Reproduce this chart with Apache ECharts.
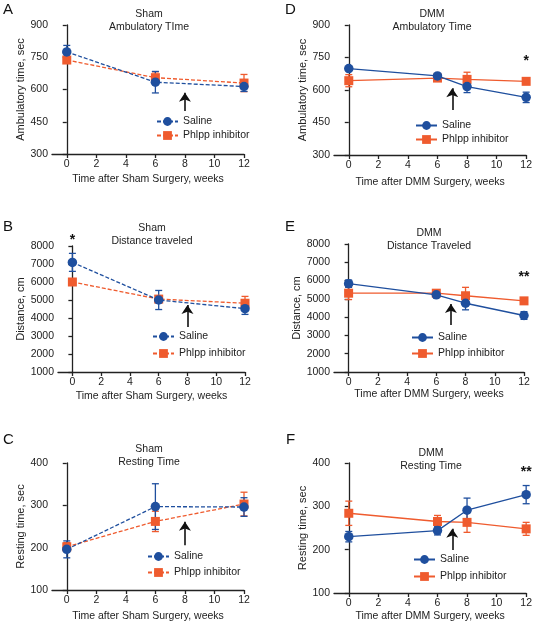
<!DOCTYPE html>
<html><head><meta charset="utf-8">
<script src="https://cdn.jsdelivr.net/npm/echarts@6/dist/echarts.min.js"></script>
<style>html,body{margin:0;padding:0;background:#fff;}
.c{position:absolute;left:0;top:0;width:535px;height:626px;}</style>
</head><body>
<div id="pA" class="c"></div><div id="pB" class="c"></div><div id="pC" class="c"></div>
<div id="pD" class="c"></div><div id="pE" class="c"></div><div id="pF" class="c"></div>
<script>
// ---- data ----
const xSham = [0, 6, 12];
const xDMM = [0, 6, 8, 12];
const xTicks = [0, 2, 4, 6, 8, 10, 12];
const ambTicks = [300, 450, 600, 750, 900];
const distTicks = [1000, 2000, 3000, 4000, 5000, 6000, 7000, 8000];
const restTicks = [100, 200, 300, 400];

const shamAmbSaline = [775, 634, 614];
const shamAmbSalineErr = [30, 50, 23];
const shamAmbPhlpp = [737, 655, 630];
const shamAmbPhlppErr = [12, 27, 40];

const shamDistSaline = [7090, 5000, 4520];
const shamDistSalineErr = [500, 530, 320];
const shamDistPhlpp = [6000, 5050, 4820];
const shamDistPhlppErr = [150, 120, 380];

const shamRestSaline = [196, 297, 296];
const shamRestSalineErr = [20, 54, 22];
const shamRestPhlpp = [202, 262, 303];
const shamRestPhlppErr = [10, 24, 28];

const dmmAmbSaline = [699, 665, 616, 566];
const dmmAmbSalineErr = [8, 8, 28, 24];
const dmmAmbPhlpp = [643, 655, 649, 640];
const dmmAmbPhlppErr = [28, 10, 33, 8];

const dmmDistSaline = [5830, 5220, 4760, 4090];
const dmmDistSalineErr = [200, 100, 360, 210];
const dmmDistPhlpp = [5310, 5310, 5170, 4890];
const dmmDistPhlppErr = [350, 100, 460, 100];

const dmmRestSaline = [230, 244, 291, 327];
const dmmRestSalineErr = [12, 10, 28, 21];
const dmmRestPhlpp = [284, 265, 263, 248];
const dmmRestPhlppErr = [28, 14, 23, 15];

// arrows: [x, tail, tip]
const arrowA = [8, 500, 585];
const arrowB = [8, 3500, 4720];
const arrowC = [8, 206, 261];
const arrowD = [7, 508, 608];
const arrowE = [7, 3570, 4720];
const arrowF = [7, 199, 248];

// significance marks: [x, y, text]
const starB = [0, 8330, '*'];
const starD = [12, 734, '*'];
const starE = [12, 6196, '**'];
const starF = [12, 379, '**'];

const BLUE = '#1F4F9E', ORANGE = '#EF5B2E', INK = '#222';
const FONT = '"Liberation Sans", Arial, Helvetica, sans-serif';

function errSeries(xs, m, e, color) {
  return {
    type: 'custom', silent: true, clip: false, z: 2,
    data: xs.map((x, i) => [x, m[i] - e[i], m[i] + e[i]]),
    renderItem: (p, api) => {
      const x = api.value(0);
      const a = api.coord([x, api.value(1)]);
      const b = api.coord([x, api.value(2)]);
      const h = 3.5;
      const st = { stroke: color, lineWidth: 1.3, fill: null };
      return { type: 'group', children: [
        { type: 'line', shape: { x1: a[0], y1: a[1], x2: b[0], y2: b[1] }, style: st },
        { type: 'line', shape: { x1: a[0] - h, y1: a[1], x2: a[0] + h, y2: a[1] }, style: st },
        { type: 'line', shape: { x1: b[0] - h, y1: b[1], x2: b[0] + h, y2: b[1] }, style: st }
      ]};
    }
  };
}

function lineSeries(name, xs, m, color, symbol, dashed, z, size) {
  return {
    type: 'line', name, data: xs.map((x, i) => [x, m[i]]),
    symbol, symbolSize: size, z,
    itemStyle: { color, opacity: 1 },
    lineStyle: { color, width: 1.3, type: dashed ? [4, 2] : 'solid' },
    emphasis: { disabled: true }
  };
}

function makeOption(c) {
  const ticks = c.yTicks;
  const series = [
    errSeries(c.xs, c.phl, c.phlErr, ORANGE),
    lineSeries('Phlpp inhibitor', c.xs, c.phl, ORANGE, 'rect', c.dashed, 3, 9),
    errSeries(c.xs, c.sal, c.salErr, BLUE),
    lineSeries('Saline', c.xs, c.sal, BLUE, 'circle', c.dashed, 4, 9.5),
    {
      type: 'lines', coordinateSystem: 'cartesian2d', silent: true, z: 5,
      data: [{ coords: [[c.arrow[0], c.arrow[1]], [c.arrow[0], c.arrow[2]]] }],
      symbol: ['none', 'arrow'], symbolSize: [7, 9],
      lineStyle: { color: '#111', width: 1.6, opacity: 1 }
    }
  ];
  if (c.star) {
    series.push({
      type: 'custom', silent: true, clip: false, z: 6,
      data: [[c.star[0], c.star[1]]],
      renderItem: (p, api) => {
        const pt = api.coord([api.value(0), api.value(1)]);
        return { type: 'text', x: pt[0], y: pt[1],
          style: { text: c.star[2], align: 'center', verticalAlign: 'middle', font: 'bold 14px ' + FONT, fill: '#111' } };
      }
    });
  }
  return {
    animation: false,
    textStyle: { fontFamily: FONT },
    graphic: [
      { type: 'text', x: c.letter[1], y: c.letter[2], style: { text: c.letter[0], font: '15px ' + FONT, fill: '#111', verticalAlign: 'top' } },
      { type: 'text', x: c.title[1], y: c.title[2], style: { text: c.title[0], font: '10.5px ' + FONT, fill: INK, align: 'center', verticalAlign: 'top', lineHeight: 13 } }
    ],
    grid: { left: c.grid[0], top: c.grid[1], width: c.grid[2], height: c.grid[3] },
    legend: {
      data: ['Saline', 'Phlpp inhibitor'], orient: 'vertical',
      left: c.legend[0], top: c.legend[1], itemGap: c.legend[2], padding: 0,
      itemWidth: 21, itemHeight: 11, selectedMode: false,
      textStyle: { fontSize: 10.5, color: INK, fontFamily: FONT }
    },
    xAxis: {
      type: 'value', min: -1, max: 12,
      name: c.xName, nameLocation: 'middle', nameGap: c.xGap,
      nameTextStyle: { fontSize: 10.5, color: INK },
      axisLine: { onZero: false, lineStyle: { color: INK, width: 1.3 } },
      axisTick: { customValues: xTicks, length: 4, lineStyle: { color: INK, width: 1.3 } },
      axisLabel: { customValues: xTicks, fontSize: 10.5, color: INK, margin: 5 },
      splitLine: { show: false }
    },
    yAxis: {
      type: 'value', min: ticks[0], max: ticks[ticks.length - 1], interval: ticks[1] - ticks[0],
      name: c.yName, nameLocation: 'middle', nameGap: c.yGap,
      nameTextStyle: { fontSize: 11, color: INK },
      axisLine: { show: true, lineStyle: { color: INK, width: 1.3 } },
      axisTick: { show: true, length: 4, lineStyle: { color: INK, width: 1.3 } },
      axisLabel: { fontSize: 10.5, color: INK, margin: 4, formatter: v => String(v) },
      splitLine: { show: false }
    },
    series
  };
}

const panels = [
  { id: 'pA', xs: xSham, sal: shamAmbSaline, salErr: shamAmbSalineErr, phl: shamAmbPhlpp, phlErr: shamAmbPhlppErr,
    dashed: true, yTicks: ambTicks, grid: [52, 25, 192, 129], arrow: arrowA, star: null,
    letter: ['A', 3, 2], title: ['Sham\nAmbulatory TIme', 149, 8], legend: [156, 116, 3],
    xName: 'Time after Sham Surgery, weeks', xGap: 20, yName: 'Ambulatory time, sec', yGap: 25 },
  { id: 'pB', xs: xSham, sal: shamDistSaline, salErr: shamDistSalineErr, phl: shamDistPhlpp, phlErr: shamDistPhlppErr,
    dashed: true, yTicks: distTicks, grid: [58, 246, 187, 126], arrow: arrowB, star: starB,
    letter: ['B', 3, 219], title: ['Sham\nDistance traveled', 152, 222], legend: [152, 331, 6],
    xName: 'Time after Sham Surgery, weeks', xGap: 19, yName: 'Distance, cm', yGap: 32 },
  { id: 'pC', xs: xSham, sal: shamRestSaline, salErr: shamRestSalineErr, phl: shamRestPhlpp, phlErr: shamRestPhlppErr,
    dashed: true, yTicks: restTicks, grid: [52, 463, 192, 127], arrow: arrowC, star: null,
    letter: ['C', 3, 432], title: ['Sham\nResting Time', 149, 443], legend: [147, 551, 5],
    xName: 'Time after Sham Surgery, weeks', xGap: 21, yName: 'Resting time, sec', yGap: 25 },
  { id: 'pD', xs: xDMM, sal: dmmAmbSaline, salErr: dmmAmbSalineErr, phl: dmmAmbPhlpp, phlErr: dmmAmbPhlppErr,
    dashed: false, yTicks: ambTicks, grid: [334, 25, 194, 130], arrow: arrowD, star: starD,
    letter: ['D', 285, 2], title: ['DMM\nAmbulatory Time', 432, 8], legend: [415, 120, 3],
    xName: 'Time after DMM Surgery, weeks', xGap: 22, yName: 'Ambulatory time, sec', yGap: 25 },
  { id: 'pE', xs: xDMM, sal: dmmDistSaline, salErr: dmmDistSalineErr, phl: dmmDistPhlpp, phlErr: dmmDistPhlppErr,
    dashed: false, yTicks: distTicks, grid: [334, 244, 190, 128], arrow: arrowE, star: starE,
    letter: ['E', 285, 219], title: ['DMM\nDistance Traveled', 429, 227], legend: [411, 332, 5],
    xName: 'Time after DMM Surgery, weeks', xGap: 17, yName: 'Distance, cm', yGap: 30 },
  { id: 'pF', xs: xDMM, sal: dmmRestSaline, salErr: dmmRestSalineErr, phl: dmmRestPhlpp, phlErr: dmmRestPhlppErr,
    dashed: false, yTicks: restTicks, grid: [334, 463, 193, 130], arrow: arrowF, star: starF,
    letter: ['F', 286, 432], title: ['DMM\nResting Time', 431, 447], legend: [413, 554, 6],
    xName: 'Time after DMM Surgery, weeks', xGap: 18, yName: 'Resting time, sec', yGap: 25 }
];

panels.forEach(c => {
  const chart = echarts.init(document.getElementById(c.id), null, { renderer: 'canvas' });
  chart.setOption(makeOption(c));
});
</script>
</body></html>
